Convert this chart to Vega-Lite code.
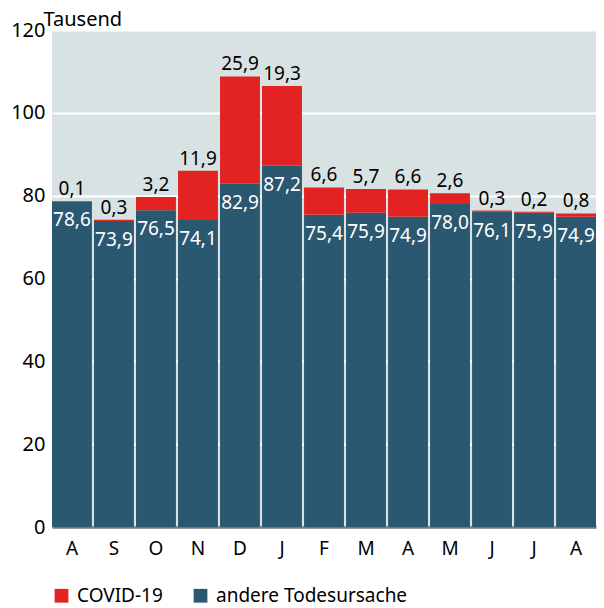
{
  "$schema": "https://vega.github.io/schema/vega-lite/v6.json",
  "width": 544,
  "height": 497,
  "autosize": {"type": "none"},
  "padding": {"left": 52, "top": 30, "right": 8, "bottom": 81},
  "config": {
    "locale": {"number": {"decimal": ",", "thousands": ".", "grouping": [3], "currency": ["", " €"]}},
    "font": "Noto Sans",
    "view": {"fill": "#d9e2e3", "stroke": null}
  },
  "data": {
    "values": [
      {"monat": "Aug 2020", "typ": "andere Todesursache", "ord": 1, "wert": 78.6},
      {"monat": "Aug 2020", "typ": "COVID-19", "ord": 2, "wert": 0.1},
      {"monat": "Sep 2020", "typ": "andere Todesursache", "ord": 1, "wert": 73.9},
      {"monat": "Sep 2020", "typ": "COVID-19", "ord": 2, "wert": 0.3},
      {"monat": "Okt 2020", "typ": "andere Todesursache", "ord": 1, "wert": 76.5},
      {"monat": "Okt 2020", "typ": "COVID-19", "ord": 2, "wert": 3.2},
      {"monat": "Nov 2020", "typ": "andere Todesursache", "ord": 1, "wert": 74.1},
      {"monat": "Nov 2020", "typ": "COVID-19", "ord": 2, "wert": 11.9},
      {"monat": "Dez 2020", "typ": "andere Todesursache", "ord": 1, "wert": 82.9},
      {"monat": "Dez 2020", "typ": "COVID-19", "ord": 2, "wert": 25.9},
      {"monat": "Jan 2021", "typ": "andere Todesursache", "ord": 1, "wert": 87.2},
      {"monat": "Jan 2021", "typ": "COVID-19", "ord": 2, "wert": 19.3},
      {"monat": "Feb 2021", "typ": "andere Todesursache", "ord": 1, "wert": 75.4},
      {"monat": "Feb 2021", "typ": "COVID-19", "ord": 2, "wert": 6.6},
      {"monat": "Mär 2021", "typ": "andere Todesursache", "ord": 1, "wert": 75.9},
      {"monat": "Mär 2021", "typ": "COVID-19", "ord": 2, "wert": 5.7},
      {"monat": "Apr 2021", "typ": "andere Todesursache", "ord": 1, "wert": 74.9},
      {"monat": "Apr 2021", "typ": "COVID-19", "ord": 2, "wert": 6.6},
      {"monat": "Mai 2021", "typ": "andere Todesursache", "ord": 1, "wert": 78.0},
      {"monat": "Mai 2021", "typ": "COVID-19", "ord": 2, "wert": 2.6},
      {"monat": "Jun 2021", "typ": "andere Todesursache", "ord": 1, "wert": 76.1},
      {"monat": "Jun 2021", "typ": "COVID-19", "ord": 2, "wert": 0.3},
      {"monat": "Jul 2021", "typ": "andere Todesursache", "ord": 1, "wert": 75.9},
      {"monat": "Jul 2021", "typ": "COVID-19", "ord": 2, "wert": 0.2},
      {"monat": "Aug 2021", "typ": "andere Todesursache", "ord": 1, "wert": 74.9},
      {"monat": "Aug 2021", "typ": "COVID-19", "ord": 2, "wert": 0.8}
    ]
  },
  "transform": [
    {"stack": "wert", "groupby": ["monat"], "sort": [{"field": "ord", "order": "ascending"}], "as": ["y0", "y1"]}
  ],
  "encoding": {
    "x": {
      "field": "monat", "type": "ordinal", "sort": null,
      "scale": {"paddingInner": 0.05, "paddingOuter": 0},
      "axis": {
        "title": null, "labelAngle": 0, "labelExpr": "slice(datum.label, 0, 1)",
        "labelFontSize": 19, "labelColor": "#000", "labelPadding": 12,
        "ticks": false, "domain": true, "domainColor": "#777777", "domainWidth": 2.5, "grid": false
      }
    }
  },
  "layer": [
    {
      "mark": {"type": "bar"},
      "encoding": {
        "y": {
          "field": "y0", "type": "quantitative",
          "scale": {"domain": [0, 120], "nice": false},
          "axis": {
            "values": [0, 20, 40, 60, 80, 100, 120],
            "title": "Tausend", "titleAngle": 0, "titleAlign": "left", "titleBaseline": "alphabetic",
            "titleX": -9, "titleY": -5, "titleFontSize": 20, "titleFontWeight": "normal", "titleColor": "#000",
            "labelFontSize": 20, "labelColor": "#000", "labelPadding": 7,
            "ticks": false, "domain": false, "grid": true, "gridColor": "#ffffff", "gridWidth": 2
          }
        },
        "y2": {"field": "y1"},
        "color": {
          "field": "typ", "type": "nominal",
          "scale": {"domain": ["COVID-19", "andere Todesursache"], "range": ["#e32322", "#2b5871"]},
          "legend": {
            "title": null, "orient": "none", "legendX": 0, "legendY": 556, "direction": "horizontal",
            "symbolType": "square", "symbolSize": 190, "symbolStrokeWidth": 0, "symbolOpacity": 1,
            "labelFontSize": 19, "labelColor": "#000", "labelLimit": 400, "columnPadding": 28, "labelOffset": 6
          }
        }
      }
    },
    {
      "transform": [{"filter": "datum.typ == 'andere Todesursache'"}],
      "mark": {"type": "text", "baseline": "top", "dy": 10, "fontSize": 19, "color": "#ffffff"},
      "encoding": {
        "y": {"field": "y1", "type": "quantitative"},
        "text": {"field": "wert", "type": "quantitative", "format": ".1f"}
      }
    },
    {
      "transform": [{"filter": "datum.typ == 'COVID-19'"}],
      "mark": {"type": "text", "baseline": "alphabetic", "dy": -6, "fontSize": 19, "color": "#000000"},
      "encoding": {
        "y": {"field": "y1", "type": "quantitative"},
        "text": {"field": "wert", "type": "quantitative", "format": ".1f"}
      }
    }
  ]
}
